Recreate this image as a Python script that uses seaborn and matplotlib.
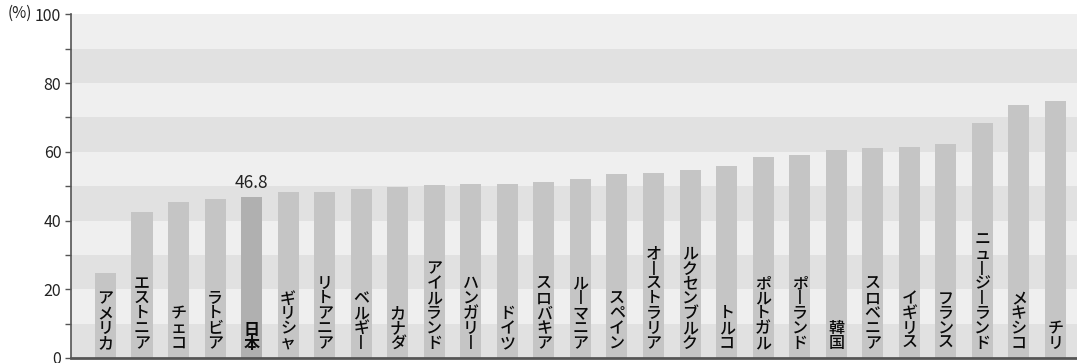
import matplotlib
matplotlib.use("Agg")
import matplotlib.pyplot as plt
import seaborn as sns
import pandas as pd

countries = [
    "アメリカ", "エストニア", "チェコ", "ラトビア", "日本", "ギリシャ", "リトアニア",
    "ベルギー", "カナダ", "アイルランド", "ハンガリー", "ドイツ", "スロバキア",
    "ルーマニア", "スペイン", "オーストラリア", "ルクセンブルク", "トルコ",
    "ポルトガル", "ポーランド", "韓国", "スロベニア", "イギリス", "フランス",
    "ニュージーランド", "メキシコ", "チリ",
]
values = [
    24.7, 42.5, 45.5, 46.3, 46.8, 48.2, 48.3,
    49.2, 49.8, 50.3, 50.6, 50.6, 51.2,
    52.1, 53.6, 53.8, 54.7, 55.9,
    58.5, 59.1, 60.5, 61.1, 61.4, 62.3,
    68.4, 73.6, 74.8,
]
highlight = "日本"
highlight_label = "46.8"
yticks = [0, 20, 40, 60, 80, 100]

df = pd.DataFrame({"country": countries, "value": values})

sns.set_theme(style="white")
plt.rcParams["font.family"] = ["Noto Sans CJK JP", "DejaVu Sans"]

fig = plt.figure(figsize=(10.77, 3.63), dpi=100)
ax = fig.add_axes([0.0659, 0.0138, 0.9341, 0.9468])

# alternating horizontal bands every 10%
for lo in range(0, 100, 10):
    shade = "#e1e1e1" if (lo // 10) % 2 == 0 else "#efefef"
    ax.axhspan(lo, lo + 10, color=shade, lw=0, zorder=0)

palette = {c: ("#b0b0b0" if c == highlight else "#c5c5c5") for c in countries}
sns.barplot(data=df, x="country", y="value", hue="country", palette=palette,
            dodge=False, legend=False, width=0.575, saturation=1, ax=ax,
            zorder=2, edgecolor="none", linewidth=0)

# vertical country names stacked inside each bar (long vowel mark turned upright)
def vertical(s):
    return "\n".join("丨" if ch == "ー" else ch for ch in s)

for i, c in enumerate(countries):
    ax.text(i, 1.7, vertical(c), ha="center", va="bottom", fontsize=11.5,
            linespacing=0.84, color="#0a0a0a", zorder=3,
            fontweight="bold" if c == highlight else "medium")

hi = countries.index(highlight)
ax.text(hi, values[hi] + 1.6, highlight_label, ha="center", va="bottom",
        fontsize=12.5, color="#222222", zorder=3)

ax.set_xlim(-0.944, len(countries) - 1 + 0.59)
ax.set_ylim(0, 100)
ax.set_yticks(yticks)
ax.set_yticks(range(10, 100, 20), minor=True)
ax.set_xticks([])
ax.set_xlabel("")
ax.set_ylabel("")
ax.tick_params(axis="y", which="major", length=4, width=1, color="#555555",
               labelsize=11.5, pad=3, left=True, labelcolor="#222222")
ax.tick_params(axis="y", which="minor", length=4, width=1, color="#555555", left=True)
for side in ("top", "right"):
    ax.spines[side].set_visible(False)
ax.spines["left"].set_color("#555555")
ax.spines["left"].set_linewidth(1.2)
ax.spines["bottom"].set_color("#555555")
ax.spines["bottom"].set_linewidth(2)

fig.text(0.0075, 0.962, "(%)", ha="left", va="center", fontsize=11, color="#222222")

fig.savefig("out.png", dpi=100)
